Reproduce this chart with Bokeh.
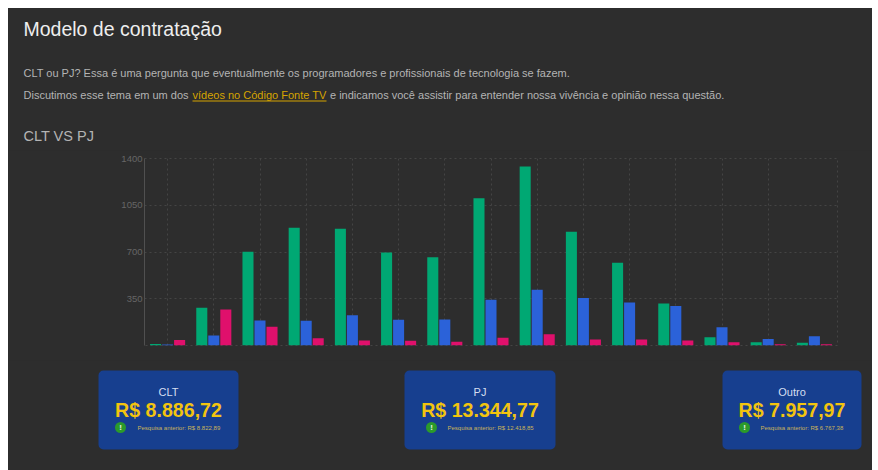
from bokeh.plotting import figure
from bokeh.layouts import column, row
from bokeh.models import Label, BoxAnnotation, FixedTicker
from bokeh.transform import dodge
from bokeh.embed import file_html
from bokeh.resources import INLINE

BG = "#2d2d2d"
FONT = "Liberation Sans"
TXT = "#b4b4b4"
LINK = "#d6a400"
GRID = "#444444"

groups = [str(i) for i in range(1, 16)]
clt = [12, 282, 702, 882, 875, 697, 660, 1102, 1340, 852, 620, 315, 62, 25, 20]
pj = [8, 75, 187, 185, 227, 192, 195, 342, 417, 355, 322, 295, 137, 48, 70]
outro = [42, 270, 140, 55, 38, 35, 28, 58, 85, 45, 45, 38, 25, 10, 10]
y_ticks = [0, 350, 700, 1050, 1400]
card_titles = ["CLT", "PJ", "Outro"]
card_values = ["R$ 8.886,72", "R$ 13.344,77", "R$ 7.957,97"]
card_notes = ["Pesquisa anterior: R$ 8.822,89", "Pesquisa anterior: R$ 12.418,85", "Pesquisa anterior: R$ 6.767,38"]
card_boxes = [(98, 238), (404, 555), (722, 861)]
card_icons = [120, 431, 744]
card_note_x = [137, 447, 760]


def panel(top, bottom):
    """A bare figure whose data coordinates are the picture's pixels."""
    f = figure(width=864, height=bottom - top, output_backend="svg", toolbar_location=None,
               x_range=(8, 872), y_range=(bottom, top), x_axis_type=None, y_axis_type=None,
               background_fill_color=BG, border_fill_color=BG, outline_line_color=None,
               min_border=0, margin=0)
    f.grid.visible = False
    return f


def text(f, s, x, y, size, color, align="left", bold=False):
    f.add_layout(Label(x=x, y=y, text=s, text_font=FONT, text_font_size=f"{size}px", text_color=color,
                       text_align=align, text_baseline="middle",
                       text_font_style="bold" if bold else "normal"))


def box(f, l, r, t, b, color, radius=0):
    f.add_layout(BoxAnnotation(left=l, right=r, top=t, bottom=b, fill_color=color, fill_alpha=1,
                               line_color=None, border_radius=radius))


head = panel(8, 150)
text(head, "Modelo de contratação", 23, 28, 19.5, "#eeeeee")
text(head, "CLT ou PJ? Essa é uma pergunta que eventualmente os programadores e profissionais de tecnologia se fazem.",
     23, 72, 11, TXT)
text(head, "Discutimos esse tema em um dos", 23, 94, 11, TXT)
text(head, "vídeos no Código Fonte TV", 192, 94, 11, LINK)
box(head, 192, 326, 100, 101, LINK)
text(head, "e indicamos você assistir para entender nossa vivência e opinião nessa questão.", 329.5, 94, 11, TXT)
text(head, "CLT VS PJ", 23, 135, 14.5, TXT)

p = figure(width=864, height=210, output_backend="svg", toolbar_location=None,
           x_range=groups, y_range=(0, 1400),
           background_fill_color=BG, border_fill_color=BG,
           outline_line_color=GRID, outline_line_dash="2 3",
           min_border_left=136, min_border_right=35, min_border_top=8, min_border_bottom=15,
           margin=0)
src = dict(g=groups, clt=clt, pj=pj, outro=outro)
BW, OFF = 0.239, 0.26
for col, off, color in (("clt", -OFF, "#00a873"), ("pj", 0, "#2b62d9"), ("outro", OFF, "#e0106c")):
    p.vbar(x=dodge("g", off, range=p.x_range), top=col, bottom=0, width=BW, source=src,
           fill_color=color, line_color=None)
p.xaxis.visible = False
p.yaxis.ticker = FixedTicker(ticks=y_ticks)
p.yaxis.major_label_overrides = {0: ""}
p.yaxis.axis_line_color = "#505050"
p.yaxis.major_tick_line_color = None
p.yaxis.major_tick_out = 0
p.yaxis.major_tick_in = 0
p.yaxis.minor_tick_line_color = None
p.yaxis.major_label_text_color = "#666666"
p.yaxis.major_label_text_font = FONT
p.yaxis.major_label_text_font_size = "9.5px"
p.yaxis.major_label_standoff = 2
for g in (p.xgrid, p.ygrid):
    g.grid_line_color = GRID
    g.grid_line_dash = "2 3"
    g.grid_line_width = 1

cards = panel(360, 470)
for i in range(3):
    l, r = card_boxes[i]
    c = (l + r) / 2
    box(cards, l, r, 370, 449, "#173f8f", 5)
    text(cards, card_titles[i], c, 391.5, 11, "#d5def0", "center")
    text(cards, card_values[i], c, 409, 19.6, "#f2c40f", "center", True)
    ix = card_icons[i]
    box(cards, ix - 5.5, ix + 5.5, 421.5, 432.5, "#2b9a2b", 6)
    text(cards, "!", ix, 427, 8, "#e8f5e8", "center", True)
    text(cards, card_notes[i], card_note_x[i], 427, 6, "#c9b45a")

page = column(row(head, margin=0), row(p, margin=0), row(cards, margin=0), spacing=0,
              margin=(8, 6, 0, 8), styles={"background-color": BG})
open("out.html", "w").write(file_html(page, INLINE))
